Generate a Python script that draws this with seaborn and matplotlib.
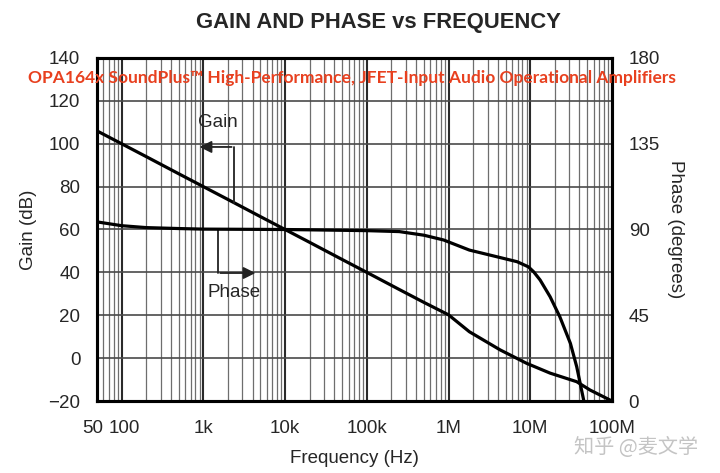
import matplotlib
matplotlib.use('Agg')
import matplotlib.pyplot as plt
import matplotlib.transforms as mtransforms
import seaborn as sns
import pandas as pd
from matplotlib.ticker import FixedLocator, FixedFormatter, LogLocator, NullFormatter

# values
gain_freq = [50, 100, 200, 500, 1e3, 2e3, 5e3, 1e4, 2e4, 5e4, 1e5, 2.5e5, 5e5,
             1e6, 1.8e6, 4.3e6, 9e6, 1.75e7, 3.7e7, 5.4e7, 1e8]
gain_db = [106, 100, 94, 86, 80, 74, 66, 60, 54, 46, 40, 32, 26,
           20.2, 12.3, 3.8, -2.4, -7, -11, -14.9, -20]

phase_freq = [50, 100, 200, 500, 1e3, 1e4, 1e5, 2.5e5, 5e5, 8.7e5, 1.8e6, 3.9e6,
              6.9e6, 9.5e6, 1.1e7, 1.32e7, 1.75e7, 2.3e7, 3.1e7, 3.7e7, 4.5e7]
phase_deg = [94, 92, 91, 90.5, 90.2, 90, 89.4, 88.9, 87, 84.5, 79.2, 75.7,
             73.1, 70.4, 67.8, 63.5, 54.7, 44.2, 30.2, 18, 0.5]

x_ticks = [50, 100, 1e3, 1e4, 1e5, 1e6, 1e7, 1e8]
x_labels = ['50', '100', '1k', '10k', '100k', '1M', '10M', '100M']
gain_ticks = list(range(-20, 141, 20))
phase_ticks = [0, 45, 90, 135, 180]

gain_df = pd.DataFrame({'freq': gain_freq, 'gain': gain_db})
phase_df = pd.DataFrame({'freq': phase_freq, 'phase': phase_deg})

sns.set_style('white')
plt.rcParams['font.family'] = ['Liberation Sans', 'DejaVu Sans']

fig = plt.figure(figsize=(7.2, 4.73), dpi=100)
ax = fig.add_axes([0.1347, 0.1522, 0.7153, 0.7252])
ax2 = ax.twinx()

sns.lineplot(data=gain_df, x='freq', y='gain', ax=ax, color='black', lw=2.3)
sns.lineplot(data=phase_df, x='freq', y='phase', ax=ax2, color='black', lw=2.3)

ax.set_xscale('log')
ax.set_xlim(50, 1e8)
ax.set_ylim(-20, 140)
ax2.set_ylim(0, 180)

ax.xaxis.set_major_locator(FixedLocator(x_ticks))
ax.xaxis.set_major_formatter(FixedFormatter(x_labels))
ax.xaxis.set_minor_locator(LogLocator(base=10, subs=range(2, 10)))
ax.xaxis.set_minor_formatter(NullFormatter())
ax.set_yticks(gain_ticks)
ax2.set_yticks(phase_ticks)

ax.grid(True, which='major', axis='x', color='#2a2a2a', lw=1.5)
ax.grid(True, which='minor', axis='x', color='#6e6e6e', lw=0.9)
ax.grid(True, which='major', axis='y', color='#4a4a4a', lw=1.2)
ax2.grid(False)

for a in (ax, ax2):
    for s in a.spines.values():
        s.set_linewidth(2.2)
        s.set_color('black')
    a.tick_params(axis='both', which='both', length=0, labelsize=13.5, pad=12)
ax.tick_params(axis='x', pad=14)

# pull "50" and "100" apart a little, as on the datasheet
xlabels = ax.get_xticklabels()
for lab, dx in zip(xlabels[:2], (-4, 3)):
    lab.set_transform(lab.get_transform() + mtransforms.ScaledTranslation(dx / 100, 0, fig.dpi_scale_trans))

ax.set_xlabel('Frequency (Hz)', fontsize=13.5, labelpad=9)
ax.set_ylabel('Gain (dB)', fontsize=13.5, labelpad=8)
ax2.set_ylabel('Phase (degrees)', fontsize=13.5, rotation=270, labelpad=17)

# curve annotations
ax.text(1514, 110, 'Gain', fontsize=13.5, ha='center', va='center')
ax.plot([2377, 2377], [98.5, 72.4], color='#222222', lw=1.3)
ax.annotate('', xy=(830, 98.5), xytext=(2400, 98.5),
            arrowprops=dict(arrowstyle='-|>', color='#222222', lw=1.3,
                            mutation_scale=18))
ax.text(2377, 30.4, 'Phase', fontsize=13.5, ha='center', va='center')
ax.plot([1514, 1514], [59.8, 39.7], color='#222222', lw=1.3)
ax.annotate('', xy=(4700, 39.7), xytext=(1490, 39.7),
            arrowprops=dict(arrowstyle='-|>', color='#222222', lw=1.3,
                            mutation_scale=18))

fig.text(0.526, 0.952, 'GAIN AND PHASE vs FREQUENCY', fontsize=15.8, fontweight='bold',
         ha='center', va='center')
fig.text(0.489, 0.835,
         'OPA164x SoundPlus\u2122 High-Performance, JFET-Input Audio Operational Amplifiers',
         fontsize=12.5, fontweight='bold', color='#e8401f', ha='center', va='center',
         family=['Lato', 'DejaVu Sans'])
fig.text(0.884, 0.054, '知乎 @麦文学', fontsize=14.5, color='#c4c4c4', ha='center', va='center',
         family=['Noto Sans CJK SC', 'DejaVu Sans'])

fig.savefig('out.png', dpi=100)
